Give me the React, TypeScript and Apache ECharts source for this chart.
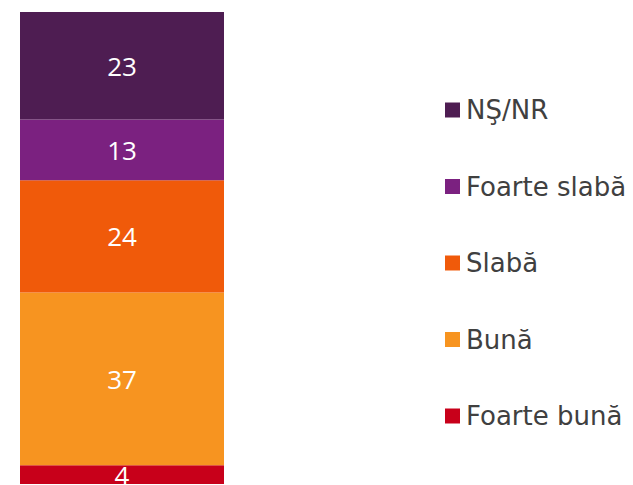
import React, { useEffect, useRef } from "react";
import * as echarts from "echarts";

const categories = ["Total"];
const seriesNames = ["Foarte bună", "Bună", "Slabă", "Foarte slabă", "NŞ/NR"];
const seriesValues = [[4], [37], [24], [13], [23]];
const seriesColors = ["#C8001A", "#F79420", "#F05A0A", "#7B2180", "#4E1D52"];
const legendOrder = ["NŞ/NR", "Foarte slabă", "Slabă", "Bună", "Foarte bună"];

export default function App() {
  const ref = useRef<HTMLDivElement>(null);
  useEffect(() => {
    if (!ref.current) return;
    const chart = echarts.init(ref.current, null, { renderer: "svg" });
    chart.setOption({
      animation: false,
      grid: { left: 20, width: 204, top: 12, bottom: 1 },
      xAxis: { type: "category", data: categories, show: false },
      yAxis: { type: "value", min: 0, max: 101, show: false },
      legend: {
        orient: "vertical",
        left: 440,
        top: 92,
        itemWidth: 15,
        itemHeight: 15,
        itemGap: 50.5,
        icon: "rect",
        data: legendOrder,
        textStyle: { fontFamily: "DejaVu Sans", fontSize: 26, color: "#404040", padding: [0, 0, 0, 1] },
      },
      series: seriesNames.map((name, i) => ({
        name,
        type: "bar",
        stack: "total",
        barWidth: "100%",
        data: seriesValues[i],
        itemStyle: { color: seriesColors[i] },
        label: {
          show: true,
          position: "inside",
          color: "#ffffff",
          fontFamily: "Open Sans",
          fontSize: 26,
        },
      })),
    });
    return () => chart.dispose();
  }, []);
  return (
    <div
      ref={ref}
      style={{ position: "fixed", left: 0, top: 0, width: 633, height: 485, background: "#fff" }}
    />
  );
}
